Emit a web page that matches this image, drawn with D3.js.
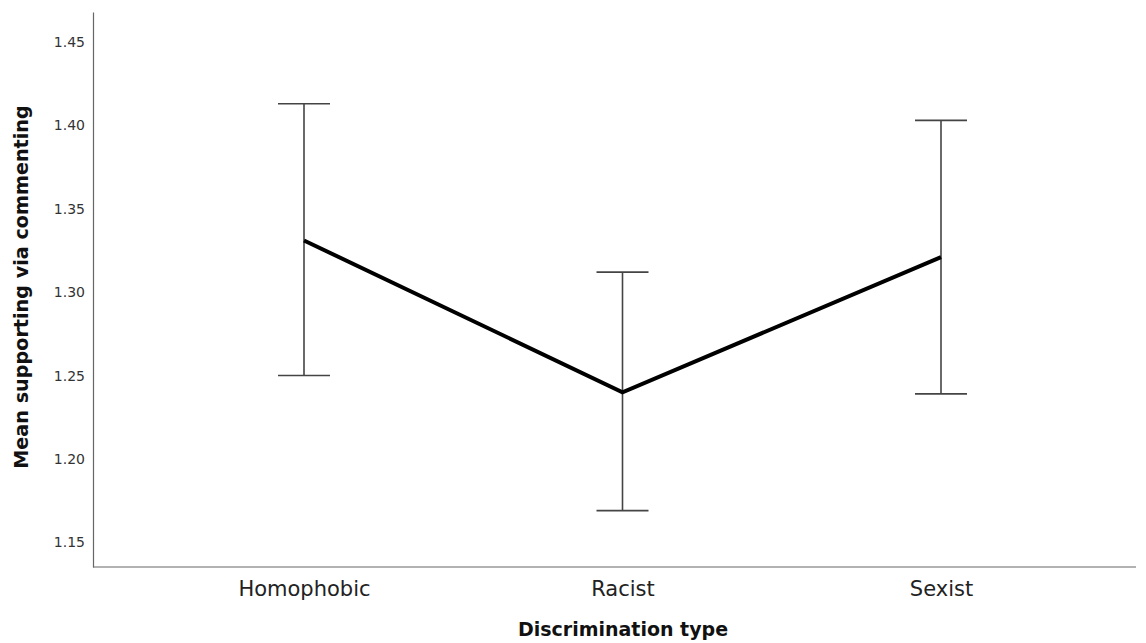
<!DOCTYPE html>
<html>
<head>
<meta charset="utf-8">
<script src="https://cdn.jsdelivr.net/npm/d3@7"></script>
<style>
  html, body { margin: 0; padding: 0; background: #fff; }
  svg { display: block; }
  text { font-family: "DejaVu Sans", sans-serif; }
</style>
</head>
<body>
<svg id="chart" width="1146" height="643"></svg>
<script>
// Discrimination types on the x axis
const categories = ["Homophobic", "Racist", "Sexist"];
// Mean score per type, with lower / upper error-bar bounds
const means = [1.331, 1.240, 1.321];
const lower = [1.250, 1.169, 1.239];
const upper = [1.413, 1.312, 1.403];
// Y tick labels
const yTicks = [1.15, 1.20, 1.25, 1.30, 1.35, 1.40, 1.45];

const svg = d3.select("#chart");
const plot = { left: 93, right: 1136, top: 12, bottom: 567 };

const y = d3.scaleLinear()
  .domain([1.1352, 1.468])
  .range([plot.bottom, plot.top]);

// Category points sit inside the frame, leaving extra room on the left
const x = d3.scalePoint()
  .domain(categories)
  .range([plot.left + 211, plot.right - 195]);

// Frame: left and bottom axis lines, no tick marks
const yAxis = d3.axisLeft(y)
  .tickValues(yTicks)
  .tickFormat(d3.format(".2f"))
  .tickSize(0)
  .tickPadding(8);
const gy = svg.append("g")
  .attr("transform", `translate(${plot.left},0)`)
  .call(yAxis);
gy.select(".domain").attr("stroke", "#666").attr("stroke-width", 1.2);
gy.selectAll(".tick text")
  .attr("fill", "#333")
  .style("font-size", "14px");

const xAxis = d3.axisBottom(x).tickSize(0).tickPadding(14);
const gx = svg.append("g")
  .attr("transform", `translate(0,${plot.bottom})`)
  .call(xAxis);
gx.select(".domain")
  .attr("d", `M${plot.left},0H${plot.right}`)
  .attr("stroke", "#666").attr("stroke-width", 1.2);
gx.selectAll(".tick text")
  .attr("fill", "#222")
  .style("font-size", "21px");

// Error bars
const capHalf = 26;
const bars = svg.append("g").attr("stroke", "#444").attr("stroke-width", 1.6).attr("fill", "none");
categories.forEach((c, i) => {
  const cx = x(c);
  bars.append("line").attr("x1", cx).attr("x2", cx).attr("y1", y(upper[i])).attr("y2", y(lower[i]));
  bars.append("line").attr("x1", cx - capHalf).attr("x2", cx + capHalf).attr("y1", y(upper[i])).attr("y2", y(upper[i]));
  bars.append("line").attr("x1", cx - capHalf).attr("x2", cx + capHalf).attr("y1", y(lower[i])).attr("y2", y(lower[i]));
});

// Mean line
const line = d3.line()
  .x((d, i) => x(categories[i]))
  .y(d => y(d));
svg.append("path")
  .datum(means)
  .attr("d", line)
  .attr("fill", "none")
  .attr("stroke", "#000")
  .attr("stroke-width", 4)
  .attr("stroke-linejoin", "miter");

// Axis titles
svg.append("text")
  .attr("x", 623)
  .attr("y", 636)
  .attr("text-anchor", "middle")
  .attr("font-weight", "bold")
  .attr("fill", "#111")
  .style("font-size", "19px")
  .text("Discrimination type");

svg.append("text")
  .attr("transform", `translate(28,287) rotate(-90)`)
  .attr("text-anchor", "middle")
  .attr("font-weight", "bold")
  .attr("fill", "#111")
  .style("font-size", "19.2px")
  .text("Mean supporting via commenting");
</script>
</body>
</html>
